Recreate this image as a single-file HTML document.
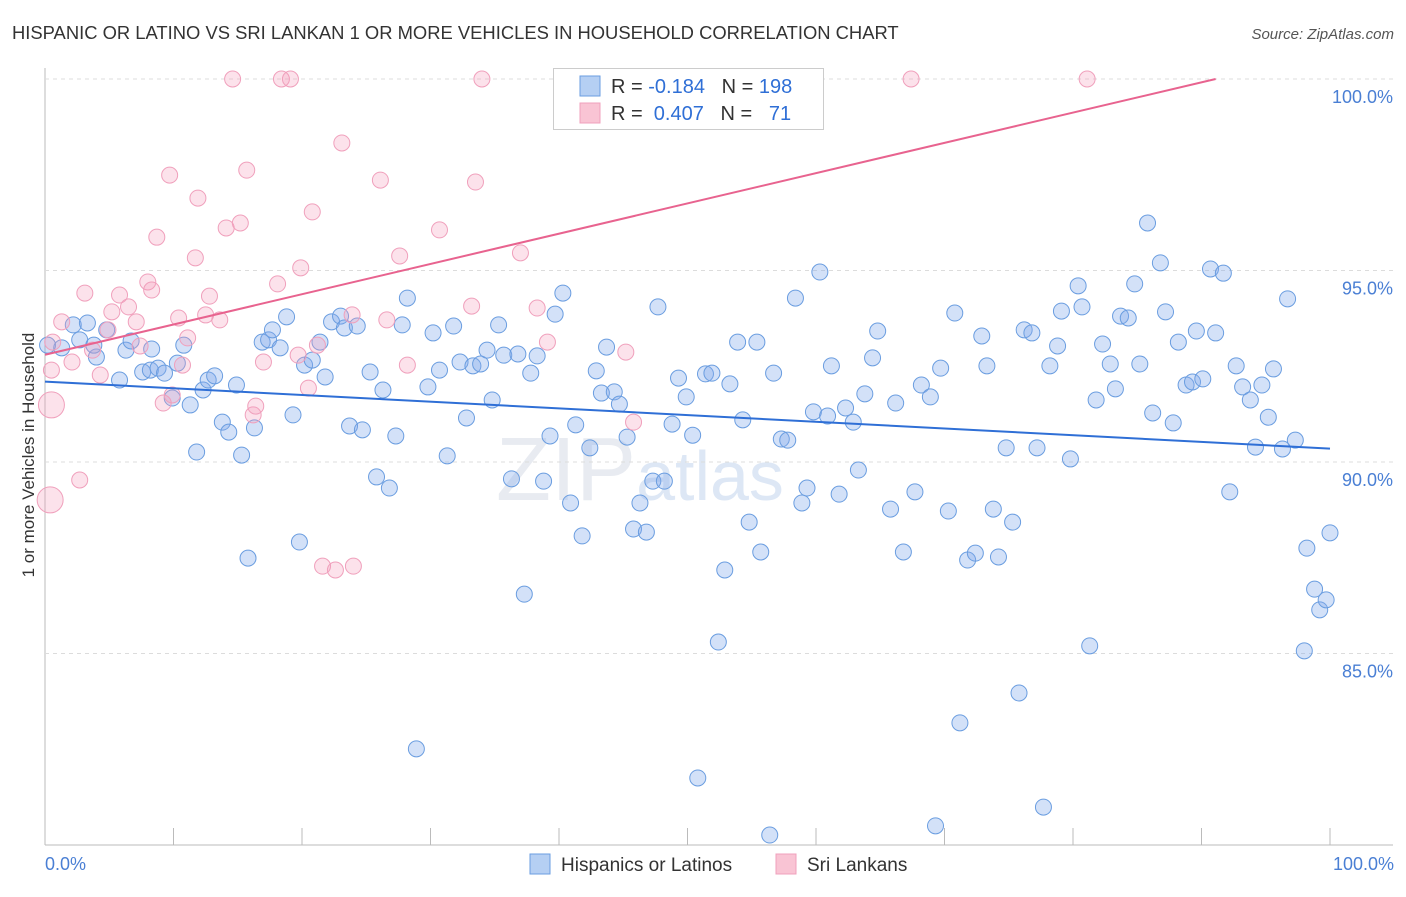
<!DOCTYPE html>
<html><head><meta charset="utf-8"><style>
body{margin:0;background:#fff;font-family:"Liberation Sans",sans-serif;}
svg text{font-family:"Liberation Sans",sans-serif;}
</style></head><body>
<svg id="chart" width="1406" height="892">
<text x="12" y="39" font-size="18.4" fill="#333">HISPANIC OR LATINO VS SRI LANKAN 1 OR MORE VEHICLES IN HOUSEHOLD CORRELATION CHART</text>
<text x="1394" y="39" font-size="15" font-style="italic" fill="#555" text-anchor="end">Source: ZipAtlas.com</text>
<text transform="translate(34,455) rotate(-90)" font-size="17" fill="#333" text-anchor="middle">1 or more Vehicles in Household</text>
<text x="640" y="500" font-size="90" fill="#e8ebf1" text-anchor="middle" font-family="Liberation Serif">ZIP<tspan fill="#dde7f5" font-family="Liberation Sans" font-size="70">atlas</tspan></text>
<g id="grid"></g><g id="pts"></g><g id="trend"></g>
<g>
<rect x="553.500" y="68.500" width="270" height="61" fill="#fff" stroke="#ccc"/>
<rect x="580" y="76" width="20" height="20" fill="#b5cff3" stroke="#6a9de0"/>
<rect x="580" y="103" width="20" height="20" fill="#f9c4d4" stroke="#f0a0bc"/>
<text x="611" y="93" font-size="20" fill="#333">R = <tspan fill="#2f6fd6">-0.184</tspan>&#160;&#160;&#160;N = <tspan fill="#2f6fd6">198</tspan></text>
<text x="611" y="120" font-size="20" fill="#333">R = &#160;<tspan fill="#2f6fd6">0.407</tspan>&#160;&#160;&#160;N = &#160;&#160;<tspan fill="#2f6fd6">71</tspan></text>
</g>
<text x="45" y="870" font-size="18" fill="#4a7fd4">0.0%</text>
<text x="1394" y="870" font-size="18" fill="#4a7fd4" text-anchor="end">100.0%</text>
<g>
<rect x="530" y="854" width="20" height="20" fill="#b5cff3" stroke="#6a9de0"/>
<text x="561" y="871" font-size="19" fill="#333">Hispanics or Latinos</text>
<rect x="776" y="854" width="20" height="20" fill="#f9c4d4" stroke="#f0a0bc"/>
<text x="807" y="871" font-size="19" fill="#333">Sri Lankans</text>
</g>
</svg>
<script>
const yTicks=[100,95,90,85];
const yTickLabels=["100.0%","95.0%","90.0%","85.0%"];
const xTicks=[0,10,20,30,40,50,60,70,80,90,100];
const blueX=[0.2,1.3,2.2,3.3,2.7,4.0,3.8,4.8,5.8,6.3,6.7,7.6,8.2,8.3,8.8,9.3,9.9,10.3,10.8,11.3,11.8,12.3,12.7,13.2,13.8,14.3,14.9,15.3,15.8,16.3,16.9,17.4,17.7,18.3,18.8,19.3,19.8,20.2,20.8,21.4,21.8,22.3,23.0,23.3,23.7,24.3,24.7,25.3,25.8,26.3,26.8,27.3,27.8,28.2,28.9,29.8,30.2,30.7,31.3,31.8,32.3,32.8,33.3,33.9,34.4,34.8,35.3,35.7,36.3,36.8,37.3,37.8,38.3,38.8,39.3,39.7,40.3,40.9,41.3,41.8,42.4,42.9,43.3,43.7,44.3,44.7,45.3,45.8,46.3,46.8,47.3,47.7,48.2,48.8,49.3,49.9,50.4,50.8,51.4,51.9,52.4,52.9,53.3,53.9,54.3,54.8,55.4,55.7,56.7,57.3,57.8,58.4,58.9,59.3,59.8,60.3,60.9,61.2,61.8,62.3,62.9,63.3,63.8,64.4,64.8,65.8,66.2,66.8,67.7,68.2,68.9,69.7,70.3,70.8,71.2,71.8,72.4,72.9,73.3,73.8,74.2,74.8,75.3,75.8,76.2,76.8,77.2,77.7,78.2,78.8,79.1,79.8,80.4,80.7,81.3,81.8,82.3,82.9,83.3,83.7,84.3,84.8,85.2,85.8,86.2,86.8,87.2,87.8,88.2,88.8,89.3,89.6,90.1,90.7,91.1,91.7,92.2,92.7,93.2,93.8,94.2,94.7,95.2,95.6,96.3,96.7,97.3,98.0,98.2,98.8,99.2,99.7,100,69.3,56.4];
const blueY=[93.05,92.98,93.58,93.63,93.19,92.74,93.05,93.45,92.14,92.92,93.16,92.35,92.40,92.95,92.45,92.32,91.67,92.58,93.05,91.49,90.26,91.88,92.14,92.25,91.04,90.78,92.01,90.18,87.49,90.89,93.13,93.19,93.45,92.98,93.79,91.23,87.91,92.53,92.66,93.13,92.22,93.66,93.81,93.50,90.94,93.55,90.84,92.35,89.61,91.88,89.32,90.68,93.58,94.28,82.51,91.96,93.37,92.40,90.16,93.55,92.61,91.15,92.51,92.56,92.92,91.62,93.58,92.79,89.56,92.82,86.55,92.32,92.77,89.50,90.68,93.86,94.41,88.93,90.97,88.07,90.37,92.38,91.80,93.00,91.83,91.51,90.65,88.25,88.93,88.17,89.50,94.05,89.50,90.99,92.19,91.70,90.70,81.75,92.30,92.32,85.30,87.18,92.04,93.13,91.10,88.43,93.13,87.65,92.32,90.60,90.57,94.28,88.93,89.32,91.31,94.96,91.20,92.51,89.16,91.41,91.04,89.79,91.78,92.72,93.42,88.77,91.54,87.65,89.22,92.01,91.70,92.45,88.72,93.89,83.19,87.44,87.62,93.29,92.51,88.77,87.52,90.37,88.43,83.97,93.45,93.37,90.37,80.99,92.51,93.03,93.94,90.08,94.60,94.05,85.20,91.62,93.08,92.56,91.91,93.81,93.76,94.65,92.56,96.24,91.28,95.20,93.92,91.02,93.13,92.01,92.09,93.42,92.17,95.04,93.37,94.93,89.22,92.51,91.96,91.62,90.39,92.01,91.17,92.43,90.34,94.26,90.57,85.07,87.75,86.68,86.14,86.40,88.15,80.50,80.26];
const pinkX=[0.5,0.4,0.5,1.3,2.1,2.7,3.1,3.7,4.3,4.9,5.2,5.8,6.5,7.1,7.4,8.0,8.3,8.7,9.2,9.7,9.9,10.4,10.7,11.1,11.7,11.9,12.5,12.8,13.6,14.1,14.6,15.2,15.7,16.2,16.4,17.0,18.1,18.4,19.1,19.7,19.9,20.5,20.8,21.2,21.6,22.6,23.1,23.9,24.0,26.1,26.6,27.6,28.2,30.7,33.2,33.5,34.0,37.0,38.3,39.1,41.4,45.2,45.8,52.2,67.4,81.1,0.6];
const pinkY=[91.49,89.01,92.40,93.66,92.61,89.53,94.41,92.92,92.27,93.45,93.92,94.36,94.05,93.66,93.03,94.70,94.49,95.87,91.54,97.49,91.75,93.76,92.53,93.24,95.33,96.89,93.84,94.33,93.71,96.11,100,96.24,97.62,91.23,91.46,92.61,94.65,100,100,92.79,95.07,91.93,96.53,93.05,87.28,87.18,98.33,93.84,87.28,97.36,93.71,95.38,92.53,96.06,94.07,97.31,100,95.46,94.02,93.13,100,92.87,91.04,100,100,100,93.13];
const pinkBig=[0,1];
const blueTrend=[[0,92.1],[100,90.35]];
const pinkTrend=[[0,92.8],[91.1,100]];
const NS="http://www.w3.org/2000/svg";
const X=v=>45+v*12.85, Y=v=>79+(100-v)*38.3;
function mk(t,a,p){const e=document.createElementNS(NS,t);for(const k in a)e.setAttribute(k,a[k]);p.appendChild(e);return e;}
const grid=document.getElementById('grid');
mk('line',{x1:45,y1:68,x2:45,y2:845,stroke:'#bbb'},grid);
mk('line',{x1:45,y1:845,x2:1393,y2:845,stroke:'#bbb'},grid);
yTicks.forEach((t,i)=>{
 const l=mk('line',{x1:45,y1:Y(t),x2:1393,y2:Y(t),stroke:'#dcdcdc','stroke-dasharray':'4,4'},grid);
 
 
 const tx=mk('text',{x:1393,y:Y(t)+24,'font-size':18,fill:'#4a7fd4','text-anchor':'end'},grid);
 tx.textContent=yTickLabels[i];
 
 
});
xTicks.forEach(t=>{
 const l=mk('line',{x1:X(t),y1:828,x2:X(t),y2:845,stroke:'#bbb'},grid);
 
 
});
const pts=document.getElementById('pts');
blueX.forEach((x,i)=>{
 const c=mk('circle',{cx:X(x),cy:Y(blueY[i]),r:8,fill:'rgba(130,170,235,0.35)',stroke:'#6a9de0','stroke-width':1},pts);
 
 
});
pinkX.forEach((x,i)=>{
 const c=mk('circle',{cx:X(x),cy:Y(pinkY[i]),r:pinkBig.includes(i)?13:8,fill:'rgba(245,160,190,0.3)',stroke:'#f0a0bc','stroke-width':1},pts);
 
 
});
const tr=document.getElementById('trend');
const bl=mk('line',{x1:X(blueTrend[0][0]),y1:Y(blueTrend[0][1]),x2:X(blueTrend[1][0]),y2:Y(blueTrend[1][1]),stroke:'#2f6fd6','stroke-width':2},tr);


const pl=mk('line',{x1:X(pinkTrend[0][0]),y1:Y(pinkTrend[0][1]),x2:X(pinkTrend[1][0]),y2:Y(pinkTrend[1][1]),stroke:'#e8638f','stroke-width':2},tr);


</script>
</body></html>
